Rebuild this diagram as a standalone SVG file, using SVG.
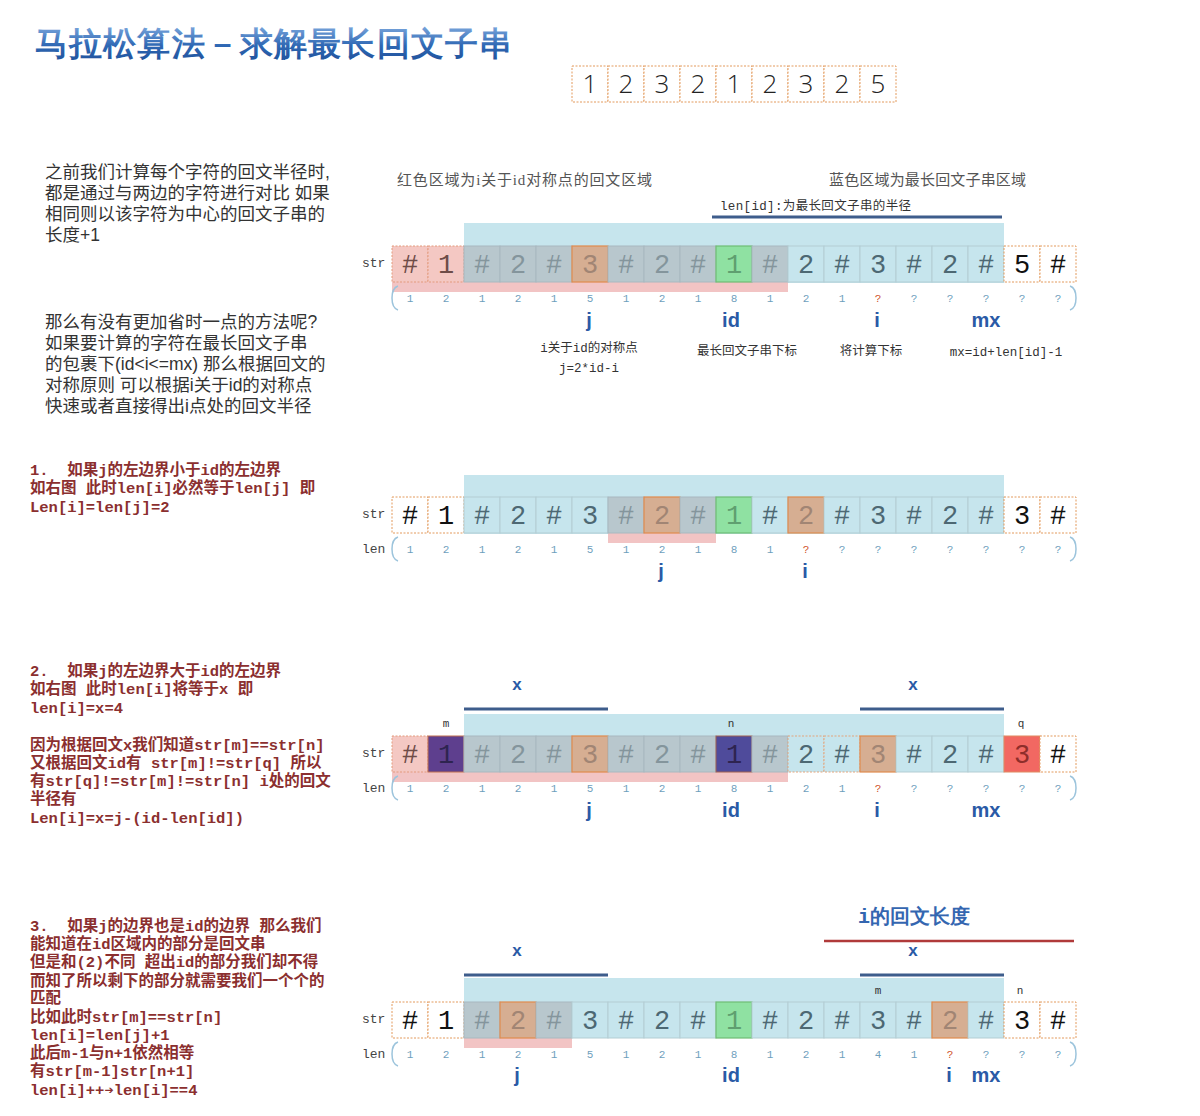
<svg xmlns="http://www.w3.org/2000/svg" width="1200" height="1116" viewBox="0 0 1200 1116">
<defs>
<linearGradient id="tg" x1="0" y1="0" x2="0" y2="1"><stop offset="0" stop-color="#7aa6dc"/><stop offset="0.5" stop-color="#2f68b4"/><stop offset="1" stop-color="#1d4d96"/></linearGradient>
<style>
.c{fill:#fff;stroke:#e39a5c;stroke-width:1;stroke-dasharray:2,1.5}
.p{fill:#f4c8c3;stroke:#e39a7c;stroke-width:1;stroke-dasharray:2,1.5}
.b{fill:#c6e5ed;stroke:#b3cdd3;stroke-width:1}
.bd{fill:#c6e5ed;stroke:#e3a57c;stroke-width:1;stroke-dasharray:2,1.5}
.g{fill:#b8c7cd;stroke:#a8b8bf;stroke-width:1}
.o{fill:#d6ae92;stroke:#df8a4e;stroke-width:1.2}
.gr{fill:#8fe1a2;stroke:#6fbd74;stroke-width:1.2}
.d1{fill:#5e3f8e;stroke:#c07050;stroke-width:1}
.d2{fill:#4f4b9b;stroke:#a06050;stroke-width:1}
.r{fill:#f26862;stroke:#e08a60;stroke-width:1}
.band{fill:#f2c4c4}
.bg{fill:#c6e5ed}
text{font-family:"Liberation Mono","DejaVu Sans Mono",monospace}
.ct{font-size:27px;text-anchor:middle;font-family:"Liberation Mono",monospace}
.kw{fill:#111}.kg{fill:#84959c}.kb{fill:#4d6873}.ko{fill:#a18574}.kn{fill:#5f9f70}.kp{fill:#6e4c48}.kd{fill:#2e2450}.kr{fill:#8e2e2a}
.lab{font-size:13px;fill:#444}
.ln{font-size:11px;fill:#6f9fbd;text-anchor:middle;font-family:"Liberation Serif",serif}
.lq{fill:#d0542a}
.ptr{font-family:"Liberation Sans",Arial,sans-serif;font-weight:bold;font-size:20px;fill:#2a5aa6;text-anchor:middle}
.xl{font-family:"Liberation Sans",Arial,sans-serif;font-weight:bold;font-size:17px;fill:#2a5aa6;text-anchor:middle}
.ml{font-size:11px;fill:#333;text-anchor:middle}
.brace{fill:none;stroke:#9cc4dc;stroke-width:1.5}
.bl{stroke:#3e5d8c;stroke-width:3}
.top{font-family:"Open Sans","DejaVu Sans",sans-serif;font-weight:300;font-size:26px;fill:#222;text-anchor:middle}
.note{font-family:"Liberation Sans","Noto Sans CJK SC",sans-serif;font-size:17.5px;fill:#333}
.red{font-family:"Liberation Mono","Noto Sans CJK SC",monospace;font-weight:bold;font-size:15.5px;fill:#8b2f2f}
.cap{font-family:"Liberation Serif","Noto Sans CJK SC",serif;font-size:15px;fill:#555}
.ann{font-family:"Liberation Mono","Noto Sans CJK SC",monospace;font-size:12.5px;fill:#333}
</style>
</defs>
<rect width="1200" height="1116" fill="#fff"/>

<g id="title"><text x="35" y="55" font-family="'Noto Sans CJK SC',sans-serif" font-weight="bold" font-size="33" fill="url(#tg)" textLength="477" lengthAdjust="spacing">马拉松算法－求解最长回文子串</text></g>

<g id="input-array">
<rect x="572" y="66" width="36" height="36" class="c"/><text x="590" y="93" class="top">1</text>
<rect x="608" y="66" width="36" height="36" class="c"/><text x="626" y="93" class="top">2</text>
<rect x="644" y="66" width="36" height="36" class="c"/><text x="662" y="93" class="top">3</text>
<rect x="680" y="66" width="36" height="36" class="c"/><text x="698" y="93" class="top">2</text>
<rect x="716" y="66" width="36" height="36" class="c"/><text x="734" y="93" class="top">1</text>
<rect x="752" y="66" width="36" height="36" class="c"/><text x="770" y="93" class="top">2</text>
<rect x="788" y="66" width="36" height="36" class="c"/><text x="806" y="93" class="top">3</text>
<rect x="824" y="66" width="36" height="36" class="c"/><text x="842" y="93" class="top">2</text>
<rect x="860" y="66" width="36" height="36" class="c"/><text x="878" y="93" class="top">5</text>
</g>

<g id="intro-text">
<text class="note"><tspan x="45" y="178">之前我们计算每个字符的回文半径时,</tspan><tspan x="45" y="199">都是通过与两边的字符进行对比&#160;如果</tspan><tspan x="45" y="220">相同则以该字符为中心的回文子串的</tspan><tspan x="45" y="241">长度+1</tspan></text>
<text class="note"><tspan x="45" y="328">那么有没有更加省时一点的方法呢?</tspan><tspan x="45" y="349">如果要计算的字符在最长回文子串</tspan><tspan x="45" y="370">的包裹下(id&lt;i&lt;=mx)&#160;那么根据回文的</tspan><tspan x="45" y="391">对称原则&#160;可以根据i关于id的对称点</tspan><tspan x="45" y="412">快速或者直接得出i点处的回文半径</tspan></text>
</g>

<g id="case-text">
<text class="red"><tspan x="30" y="475">1.&#160;&#160;如果j的左边界小于id的左边界</tspan><tspan x="30" y="493">如右图&#160;此时len[i]必然等于len[j]&#160;即</tspan><tspan x="30" y="512">Len[i]=len[j]=2</tspan></text>
<text class="red"><tspan x="30" y="676">2.&#160;&#160;如果j的左边界大于id的左边界</tspan><tspan x="30" y="694">如右图&#160;此时len[i]将等于x&#160;即</tspan><tspan x="30" y="713">len[i]=x=4</tspan><tspan x="30" y="750">因为根据回文x我们知道str[m]==str[n]</tspan><tspan x="30" y="768">又根据回文id有&#160;str[m]!=str[q]&#160;所以</tspan><tspan x="30" y="786">有str[q]!=str[m]!=str[n]&#160;i处的回文</tspan><tspan x="30" y="804">半径有</tspan><tspan x="30" y="823">Len[i]=x=j-(id-len[id])</tspan></text>
<text class="red"><tspan x="30" y="931">3.&#160;&#160;如果j的边界也是id的边界&#160;那么我们</tspan><tspan x="30" y="949">能知道在id区域内的部分是回文串</tspan><tspan x="30" y="967">但是和(2)不同&#160;超出id的部分我们却不得</tspan><tspan x="30" y="986">而知了所以剩下的部分就需要我们一个个的</tspan><tspan x="30" y="1003">匹配</tspan><tspan x="30" y="1022">比如此时str[m]==str[n]</tspan><tspan x="30" y="1040">len[i]=len[j]+1</tspan><tspan x="30" y="1058">此后m-1与n+1依然相等</tspan><tspan x="30" y="1076">有str[m-1]str[n+1]</tspan><tspan x="30" y="1095">len[i]++➔len[i]==4</tspan></text>
</g>

<!-- ROW 1 -->
<g id="row1">
<text x="397" y="185" class="cap" textLength="255" lengthAdjust="spacing">红色区域为i关于id对称点的回文区域</text>
<text x="829" y="185" class="cap" textLength="197" lengthAdjust="spacing">蓝色区域为最长回文子串区域</text>
<text x="720" y="210" class="ann" textLength="191" lengthAdjust="spacing">len[id]:为最长回文子串的半径</text>
<line x1="712" y1="217" x2="1002" y2="217" class="bl" stroke-width="2"/>
<rect x="464" y="223" width="540" height="60" class="bg"/>
<rect x="392" y="282" width="396" height="10" class="band"/>
<text x="362" y="267" class="lab">str</text>
<rect x="392" y="246" width="36" height="36" class="p"/><text x="410" y="273" class="ct kp">#</text>
<rect x="428" y="246" width="36" height="36" class="p"/><text x="446" y="273" class="ct kp">1</text>
<rect x="464" y="246" width="36" height="36" class="g"/><text x="482" y="273" class="ct kg">#</text>
<rect x="500" y="246" width="36" height="36" class="g"/><text x="518" y="273" class="ct kg">2</text>
<rect x="536" y="246" width="36" height="36" class="g"/><text x="554" y="273" class="ct kg">#</text>
<rect x="572" y="246" width="36" height="36" class="o"/><text x="590" y="273" class="ct ko">3</text>
<rect x="608" y="246" width="36" height="36" class="g"/><text x="626" y="273" class="ct kg">#</text>
<rect x="644" y="246" width="36" height="36" class="g"/><text x="662" y="273" class="ct kg">2</text>
<rect x="680" y="246" width="36" height="36" class="g"/><text x="698" y="273" class="ct kg">#</text>
<rect x="716" y="246" width="36" height="36" class="gr"/><text x="734" y="273" class="ct kn">1</text>
<rect x="752" y="246" width="36" height="36" class="g"/><text x="770" y="273" class="ct kg">#</text>
<rect x="788" y="246" width="36" height="36" class="b"/><text x="806" y="273" class="ct kb">2</text>
<rect x="824" y="246" width="36" height="36" class="b"/><text x="842" y="273" class="ct kb">#</text>
<rect x="860" y="246" width="36" height="36" class="b"/><text x="878" y="273" class="ct kb">3</text>
<rect x="896" y="246" width="36" height="36" class="b"/><text x="914" y="273" class="ct kb">#</text>
<rect x="932" y="246" width="36" height="36" class="b"/><text x="950" y="273" class="ct kb">2</text>
<rect x="968" y="246" width="36" height="36" class="b"/><text x="986" y="273" class="ct kb">#</text>
<rect x="1004" y="246" width="36" height="36" class="c"/><text x="1022" y="273" class="ct kw">5</text>
<rect x="1040" y="246" width="36" height="36" class="c"/><text x="1058" y="273" class="ct kw">#</text>
<path d="M398,286 Q392,288 392,298 Q392,308 398,310" class="brace"/>
<path d="M1070,286 Q1076,288 1076,298 Q1076,308 1070,310" class="brace"/>
<g class="ln"><text x="410" y="302">1</text><text x="446" y="302">2</text><text x="482" y="302">1</text><text x="518" y="302">2</text><text x="554" y="302">1</text><text x="590" y="302">5</text><text x="626" y="302">1</text><text x="662" y="302">2</text><text x="698" y="302">1</text><text x="734" y="302">8</text><text x="770" y="302">1</text><text x="806" y="302">2</text><text x="842" y="302">1</text><text x="878" y="302" class="lq">?</text><text x="914" y="302">?</text><text x="950" y="302">?</text><text x="986" y="302">?</text><text x="1022" y="302">?</text><text x="1058" y="302">?</text></g>
<text x="589" y="327" class="ptr">j</text><text x="731" y="327" class="ptr">id</text><text x="877" y="327" class="ptr">i</text><text x="986" y="327" class="ptr">mx</text>
<text x="589" y="352" class="ann" text-anchor="middle">i关于id的对称点</text>
<text x="589" y="372" class="ann" text-anchor="middle">j=2*id-i</text>
<text x="747" y="355" class="ann" text-anchor="middle">最长回文子串下标</text>
<text x="871" y="355" class="ann" text-anchor="middle">将计算下标</text>
<text x="1006" y="356" class="ann" text-anchor="middle">mx=id+len[id]-1</text>
</g>

<!-- ROW 2 -->
<g id="row2">
<rect x="464" y="475" width="540" height="59" class="bg"/>
<rect x="608" y="533" width="108" height="10" class="band"/>
<text x="362" y="518" class="lab">str</text>
<text x="362" y="553" class="lab">len</text>
<rect x="392" y="497" width="36" height="36" class="c"/><text x="410" y="524" class="ct kw">#</text>
<rect x="428" y="497" width="36" height="36" class="c"/><text x="446" y="524" class="ct kw">1</text>
<rect x="464" y="497" width="36" height="36" class="b"/><text x="482" y="524" class="ct kb">#</text>
<rect x="500" y="497" width="36" height="36" class="b"/><text x="518" y="524" class="ct kb">2</text>
<rect x="536" y="497" width="36" height="36" class="b"/><text x="554" y="524" class="ct kb">#</text>
<rect x="572" y="497" width="36" height="36" class="b"/><text x="590" y="524" class="ct kb">3</text>
<rect x="608" y="497" width="36" height="36" class="g"/><text x="626" y="524" class="ct kg">#</text>
<rect x="644" y="497" width="36" height="36" class="o"/><text x="662" y="524" class="ct ko">2</text>
<rect x="680" y="497" width="36" height="36" class="g"/><text x="698" y="524" class="ct kg">#</text>
<rect x="716" y="497" width="36" height="36" class="gr"/><text x="734" y="524" class="ct kn">1</text>
<rect x="752" y="497" width="36" height="36" class="b"/><text x="770" y="524" class="ct kb">#</text>
<rect x="788" y="497" width="36" height="36" class="o"/><text x="806" y="524" class="ct ko">2</text>
<rect x="824" y="497" width="36" height="36" class="b"/><text x="842" y="524" class="ct kb">#</text>
<rect x="860" y="497" width="36" height="36" class="b"/><text x="878" y="524" class="ct kb">3</text>
<rect x="896" y="497" width="36" height="36" class="b"/><text x="914" y="524" class="ct kb">#</text>
<rect x="932" y="497" width="36" height="36" class="b"/><text x="950" y="524" class="ct kb">2</text>
<rect x="968" y="497" width="36" height="36" class="b"/><text x="986" y="524" class="ct kb">#</text>
<rect x="1004" y="497" width="36" height="36" class="c"/><text x="1022" y="524" class="ct kw">3</text>
<rect x="1040" y="497" width="36" height="36" class="c"/><text x="1058" y="524" class="ct kw">#</text>
<path d="M398,537 Q392,539 392,549 Q392,559 398,561" class="brace"/>
<path d="M1070,537 Q1076,539 1076,549 Q1076,559 1070,561" class="brace"/>
<g class="ln"><text x="410" y="553">1</text><text x="446" y="553">2</text><text x="482" y="553">1</text><text x="518" y="553">2</text><text x="554" y="553">1</text><text x="590" y="553">5</text><text x="626" y="553">1</text><text x="662" y="553">2</text><text x="698" y="553">1</text><text x="734" y="553">8</text><text x="770" y="553">1</text><text x="806" y="553" class="lq">?</text><text x="842" y="553">?</text><text x="878" y="553">?</text><text x="914" y="553">?</text><text x="950" y="553">?</text><text x="986" y="553">?</text><text x="1022" y="553">?</text><text x="1058" y="553">?</text></g>
<text x="661" y="578" class="ptr">j</text><text x="805" y="578" class="ptr">i</text>
</g>

<!-- ROW 3 -->
<g id="row3">
<text x="517" y="690" class="xl">x</text><text x="913" y="690" class="xl">x</text>
<line x1="464" y1="709" x2="608" y2="709" class="bl"/>
<line x1="860" y1="709" x2="1004" y2="709" class="bl"/>
<rect x="464" y="714" width="540" height="58" class="bg"/>
<text x="446" y="727" class="ml">m</text><text x="731" y="727" class="ml">n</text><text x="1021" y="727" class="ml">q</text>
<rect x="392" y="771" width="396" height="11" class="band"/>
<text x="362" y="757" class="lab">str</text>
<text x="362" y="792" class="lab">len</text>
<rect x="392" y="736" width="36" height="36" class="p"/><text x="410" y="763" class="ct kp">#</text>
<rect x="428" y="736" width="36" height="36" class="d1"/><text x="446" y="763" class="ct kd">1</text>
<rect x="464" y="736" width="36" height="36" class="g"/><text x="482" y="763" class="ct kg">#</text>
<rect x="500" y="736" width="36" height="36" class="g"/><text x="518" y="763" class="ct kg">2</text>
<rect x="536" y="736" width="36" height="36" class="g"/><text x="554" y="763" class="ct kg">#</text>
<rect x="572" y="736" width="36" height="36" class="o"/><text x="590" y="763" class="ct ko">3</text>
<rect x="608" y="736" width="36" height="36" class="g"/><text x="626" y="763" class="ct kg">#</text>
<rect x="644" y="736" width="36" height="36" class="g"/><text x="662" y="763" class="ct kg">2</text>
<rect x="680" y="736" width="36" height="36" class="g"/><text x="698" y="763" class="ct kg">#</text>
<rect x="716" y="736" width="36" height="36" class="d2"/><text x="734" y="763" class="ct kd">1</text>
<rect x="752" y="736" width="36" height="36" class="g"/><text x="770" y="763" class="ct kg">#</text>
<rect x="788" y="736" width="36" height="36" class="bd"/><text x="806" y="763" class="ct kb">2</text>
<rect x="824" y="736" width="36" height="36" class="bd"/><text x="842" y="763" class="ct kb">#</text>
<rect x="860" y="736" width="36" height="36" class="o"/><text x="878" y="763" class="ct ko">3</text>
<rect x="896" y="736" width="36" height="36" class="b"/><text x="914" y="763" class="ct kb">#</text>
<rect x="932" y="736" width="36" height="36" class="b"/><text x="950" y="763" class="ct kb">2</text>
<rect x="968" y="736" width="36" height="36" class="b"/><text x="986" y="763" class="ct kb">#</text>
<rect x="1004" y="736" width="36" height="36" class="r"/><text x="1022" y="763" class="ct kr">3</text>
<rect x="1040" y="736" width="36" height="36" class="c"/><text x="1058" y="763" class="ct kw">#</text>
<path d="M398,776 Q392,778 392,788 Q392,798 398,800" class="brace"/>
<path d="M1070,776 Q1076,778 1076,788 Q1076,798 1070,800" class="brace"/>
<g class="ln"><text x="410" y="792">1</text><text x="446" y="792">2</text><text x="482" y="792">1</text><text x="518" y="792">2</text><text x="554" y="792">1</text><text x="590" y="792">5</text><text x="626" y="792">1</text><text x="662" y="792">2</text><text x="698" y="792">1</text><text x="734" y="792">8</text><text x="770" y="792">1</text><text x="806" y="792">2</text><text x="842" y="792">1</text><text x="878" y="792" class="lq">?</text><text x="914" y="792">?</text><text x="950" y="792">?</text><text x="986" y="792">?</text><text x="1022" y="792">?</text><text x="1058" y="792">?</text></g>
<text x="589" y="817" class="ptr">j</text><text x="731" y="817" class="ptr">id</text><text x="877" y="817" class="ptr">i</text><text x="986" y="817" class="ptr">mx</text>
</g>

<!-- ROW 4 -->
<g id="row4">
<text x="914" y="923" font-family="'Liberation Sans','Noto Sans CJK SC',sans-serif" font-weight="bold" font-size="20" fill="#3466b0" text-anchor="middle">i的回文长度</text>
<line x1="824" y1="941" x2="1074" y2="941" stroke="#b03a3a" stroke-width="2.5"/>
<text x="517" y="956" class="xl">x</text><text x="913" y="956" class="xl">x</text>
<line x1="464" y1="975" x2="608" y2="975" class="bl"/>
<line x1="860" y1="975" x2="1004" y2="975" class="bl"/>
<rect x="464" y="978" width="540" height="60" class="bg"/>
<text x="878" y="994" class="ml">m</text><text x="1020" y="994" class="ml">n</text>
<rect x="464" y="1038" width="108" height="10" class="band"/>
<text x="362" y="1023" class="lab">str</text>
<text x="362" y="1058" class="lab">len</text>
<rect x="392" y="1002" width="36" height="36" class="c"/><text x="410" y="1029" class="ct kw">#</text>
<rect x="428" y="1002" width="36" height="36" class="c"/><text x="446" y="1029" class="ct kw">1</text>
<rect x="464" y="1002" width="36" height="36" class="g"/><text x="482" y="1029" class="ct kg">#</text>
<rect x="500" y="1002" width="36" height="36" class="o"/><text x="518" y="1029" class="ct ko">2</text>
<rect x="536" y="1002" width="36" height="36" class="g"/><text x="554" y="1029" class="ct kg">#</text>
<rect x="572" y="1002" width="36" height="36" class="b"/><text x="590" y="1029" class="ct kb">3</text>
<rect x="608" y="1002" width="36" height="36" class="b"/><text x="626" y="1029" class="ct kb">#</text>
<rect x="644" y="1002" width="36" height="36" class="b"/><text x="662" y="1029" class="ct kb">2</text>
<rect x="680" y="1002" width="36" height="36" class="b"/><text x="698" y="1029" class="ct kb">#</text>
<rect x="716" y="1002" width="36" height="36" class="gr"/><text x="734" y="1029" class="ct kn">1</text>
<rect x="752" y="1002" width="36" height="36" class="b"/><text x="770" y="1029" class="ct kb">#</text>
<rect x="788" y="1002" width="36" height="36" class="b"/><text x="806" y="1029" class="ct kb">2</text>
<rect x="824" y="1002" width="36" height="36" class="b"/><text x="842" y="1029" class="ct kb">#</text>
<rect x="860" y="1002" width="36" height="36" class="b"/><text x="878" y="1029" class="ct kb">3</text>
<rect x="896" y="1002" width="36" height="36" class="b"/><text x="914" y="1029" class="ct kb">#</text>
<rect x="932" y="1002" width="36" height="36" class="o"/><text x="950" y="1029" class="ct ko">2</text>
<rect x="968" y="1002" width="36" height="36" class="b"/><text x="986" y="1029" class="ct kb">#</text>
<rect x="1004" y="1002" width="36" height="36" class="c"/><text x="1022" y="1029" class="ct kw">3</text>
<rect x="1040" y="1002" width="36" height="36" class="c"/><text x="1058" y="1029" class="ct kw">#</text>
<path d="M398,1042 Q392,1044 392,1054 Q392,1064 398,1066" class="brace"/>
<path d="M1070,1042 Q1076,1044 1076,1054 Q1076,1064 1070,1066" class="brace"/>
<g class="ln"><text x="410" y="1058">1</text><text x="446" y="1058">2</text><text x="482" y="1058">1</text><text x="518" y="1058">2</text><text x="554" y="1058">1</text><text x="590" y="1058">5</text><text x="626" y="1058">1</text><text x="662" y="1058">2</text><text x="698" y="1058">1</text><text x="734" y="1058">8</text><text x="770" y="1058">1</text><text x="806" y="1058">2</text><text x="842" y="1058">1</text><text x="878" y="1058">4</text><text x="914" y="1058">1</text><text x="950" y="1058" class="lq">?</text><text x="986" y="1058">?</text><text x="1022" y="1058">?</text><text x="1058" y="1058">?</text></g>
<text x="517" y="1082" class="ptr">j</text><text x="731" y="1082" class="ptr">id</text><text x="949" y="1082" class="ptr">i</text><text x="986" y="1082" class="ptr">mx</text>
</g>
</svg>
